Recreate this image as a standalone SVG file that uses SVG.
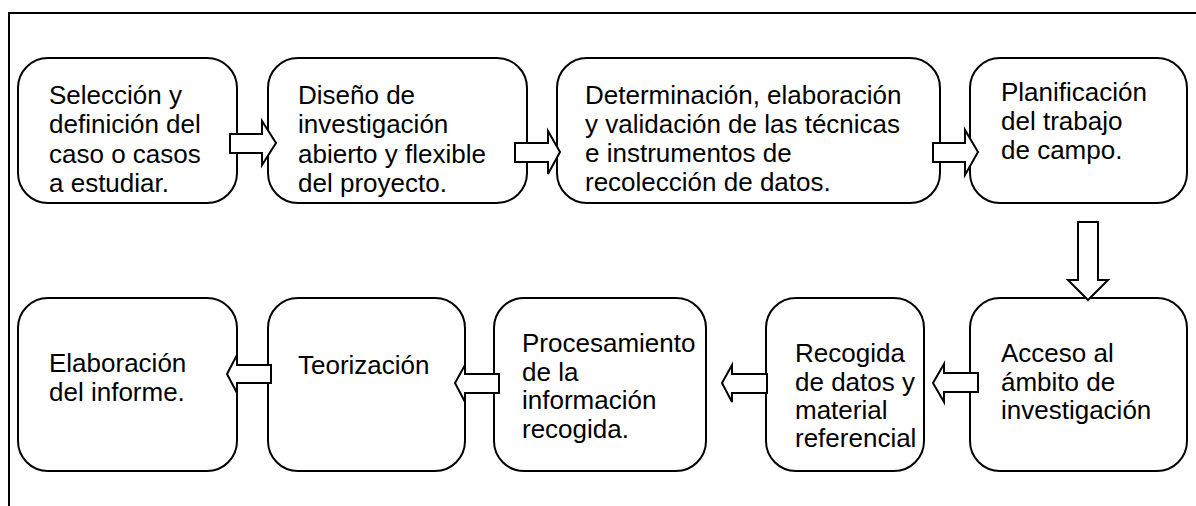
<svg xmlns="http://www.w3.org/2000/svg" width="1196" height="506" viewBox="0 0 1196 506">
<style>
.box{fill:#fff;stroke:#000;stroke-width:2}
.arr{fill:#fff;stroke:#000;stroke-width:2;stroke-linejoin:miter}
text{font-family:"Liberation Sans",Arial,sans-serif;font-size:26px;fill:#000}
.frame{fill:none;stroke:#000;stroke-width:2}
</style>
<rect width="1196" height="506" fill="#fff"/>
<path class="frame" d="M9,506 V13 H1196"/>
<g id="n1"><rect class="box" x="18" y="58" width="219" height="145" rx="30"/>
<text x="49" y="104">Selección y</text><text x="49" y="133">definición del</text><text x="49" y="163">caso o casos</text><text x="49" y="192">a estudiar.</text></g>
<g id="n2"><rect class="box" x="268" y="58" width="259" height="145" rx="30"/>
<text x="298" y="104">Diseño de</text><text x="298" y="133">investigación</text><text x="298" y="163">abierto y flexible</text><text x="298" y="192">del proyecto.</text></g>
<g id="n3"><rect class="box" x="557" y="58" width="383" height="145" rx="30"/>
<text x="585" y="104">Determinación, elaboración</text><text x="585" y="133">y validación de las técnicas</text><text x="585" y="162">e instrumentos de</text><text x="585" y="191">recolección de datos.</text></g>
<g id="n4"><rect class="box" x="970" y="58" width="217" height="145" rx="30"/>
<text x="1001" y="101">Planificación</text><text x="1001" y="130">del trabajo</text><text x="1001" y="159">de campo.</text></g>
<g id="n5"><rect class="box" x="970" y="298" width="217" height="173" rx="30"/>
<text x="1001" y="362">Acceso al</text><text x="1001" y="391">ámbito de</text><text x="1001" y="419">investigación</text></g>
<g id="n6"><rect class="box" x="766" y="298" width="158" height="173" rx="30"/>
<text x="795" y="362">Recogida</text><text x="795" y="391">de datos y</text><text x="795" y="419">material</text><text x="795" y="447">referencial</text></g>
<g id="n7"><rect class="box" x="494" y="298" width="212" height="173" rx="30"/>
<text x="522" y="352">Procesamiento</text><text x="522" y="381">de la</text><text x="522" y="409">información</text><text x="522" y="438">recogida.</text></g>
<g id="n8"><rect class="box" x="268" y="298" width="197" height="173" rx="30"/>
<text x="298" y="374">Teorización</text></g>
<g id="n9"><rect class="box" x="18" y="298" width="219" height="173" rx="30"/>
<text x="49" y="372">Elaboración</text><text x="49" y="401">del informe.</text></g>
<g id="connectors">
<polygon class="arr" points="230,134 262,134 262,121 276,143 262,165 262,153 230,153"/>
<polygon class="arr" points="515,143 548,143 548,131 560,152 548,174 548,162 515,162"/>
<polygon class="arr" points="933,143 965,143 965,130 978,152 965,175 965,162 933,162"/>
<polygon class="arr" points="1078,222 1098,222 1098,280 1108,280 1088,300 1068,280 1078,280"/>
<polygon class="arr" points="978,373 944,373 944,364 933,383 944,402 944,392 978,392"/>
<polygon class="arr" points="767,374 732,374 732,365 722,383 732,402 732,393 767,393"/>
<polygon class="arr" points="499,374 465,374 465,365 455,383 465,402 465,393 499,393"/>
<polygon class="arr" points="271,365 237,365 237,355 227,374 237,393 237,383 271,383"/>
</g>
</svg>
